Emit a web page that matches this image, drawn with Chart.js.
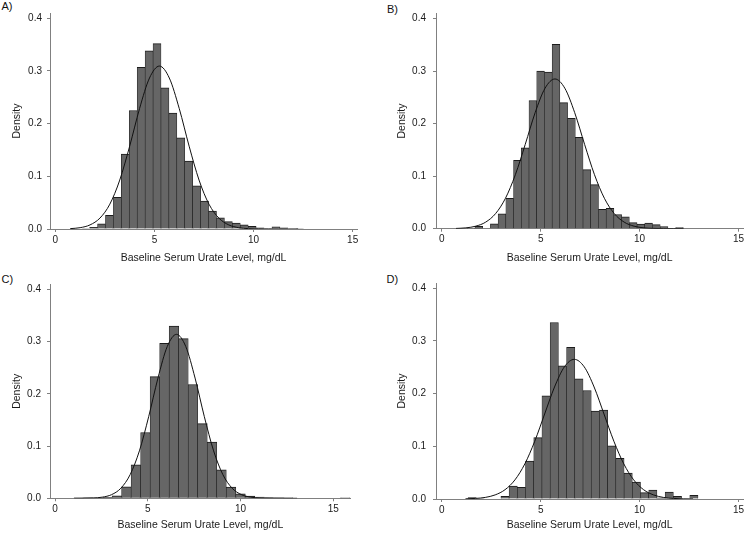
<!DOCTYPE html>
<html><head><meta charset="utf-8">
<script src="https://cdn.jsdelivr.net/npm/chart.js@4.4.1/dist/chart.umd.min.js"></script>
<style>
html,body{margin:0;padding:0;background:#fff;}
body{width:745px;height:535px;position:relative;overflow:hidden;font-family:"Liberation Sans",Arial,sans-serif;}
canvas{position:absolute;}
.lab{position:absolute;font-size:11px;line-height:11px;color:#111;}
</style></head><body>
<div class="lab" style="left:1.5px;top:1.4px">A)</div>
<div class="lab" style="left:387px;top:3.7px">B)</div>
<div class="lab" style="left:1.5px;top:273.7px">C)</div>
<div class="lab" style="left:386.5px;top:273.7px">D)</div>
<canvas id="cA" width="372" height="268" style="left:0;top:0"></canvas>
<canvas id="cB" width="367" height="268" style="left:378px;top:0"></canvas>
<canvas id="cC" width="372" height="267" style="left:0;top:268px"></canvas>
<canvas id="cD" width="367" height="267" style="left:378px;top:268px"></canvas>
<script>
// ---- data ----
const xTickValues = [0, 5, 10, 15];
const yTickValues = [0, 0.1, 0.2, 0.3, 0.4];
const yTickLabels = ["0.0", "0.1", "0.2", "0.3", "0.4"];
const xTitle = "Baseline Serum Urate Level, mg/dL";
const yTitle = "Density";

// Panel A histogram (bin start, bin width, densities)
const binStartA = 0.53, binWidthA = 0.4;
const densityA = [0, 0, 0.001, 0.003, 0.010, 0.026, 0.060, 0.142, 0.225, 0.307, 0.338, 0.352, 0.268, 0.220, 0.173, 0.129, 0.082, 0.053, 0.034, 0.021, 0.014, 0.011, 0.008, 0.005, 0.002, 0.001, 0.004, 0.002, 0, 0.001];
const curveXA = [0.75,1.25,1.75,2.25,2.75,3.25,3.75,4.25,4.75,5.25,5.75,6.25,6.75,7.25,7.75,8.25,8.75,9.25,9.75,10.25,10.75,11.25,11.75,12.25];
const curveYA = [0.0007,0.0025,0.0078,0.0207,0.0472,0.0929,0.1572,0.2288,0.2866,0.3093,0.2866,0.2288,0.1572,0.0929,0.0472,0.0207,0.0078,0.0025,0.0007,0.0002,0,0,0,0];

// Panel B
const binStartB = 0.51, binWidthB = 0.39;
const densityB = [0, 0, 0.001, 0.0044, 0, 0.0095, 0.0285, 0.058, 0.130, 0.154, 0.244, 0.300, 0.298, 0.351, 0.240, 0.210, 0.174, 0.1125, 0.084, 0.037, 0.039, 0.027, 0.0225, 0.0117, 0.0086, 0.0105, 0.0079, 0.0041, 0, 0.0022];
const curveXB = [0.72,1.22,1.72,2.22,2.72,3.22,3.72,4.22,4.72,5.22,5.72,6.22,6.72,7.22,7.72,8.22,8.72,9.22,9.72,10.22,10.72,11.22,11.72,12.22];
const curveYB = [0.0005,0.0016,0.0048,0.0125,0.0287,0.0579,0.1027,0.1605,0.2208,0.2674,0.2850,0.2674,0.2208,0.1605,0.1027,0.0579,0.0287,0.0125,0.0048,0.0016,0.0005,0.0001,0,0];

// Panel C
const binStartC = 1.025, binWidthC = 0.513;
const densityC = [0.0003, 0.0005, 0.001, 0.002, 0.0045, 0.022, 0.064, 0.126, 0.233, 0.297, 0.330, 0.306, 0.218, 0.143, 0.1075, 0.0545, 0.0214, 0.0086, 0.0041, 0.0022, 0.0016, 0.0006, 0.0003, 0, 0, 0, 0, 0, 0.0003];
const curveXC = [1.05,1.55,2.05,2.55,3.05,3.55,4.05,4.55,5.05,5.55,6.05,6.55,7.05,7.55,8.05,8.55,9.05,9.55,10.05,10.55,11.05,11.55,12.05,12.55,13.05];
const curveYC = [0,0.0001,0.0006,0.0022,0.0070,0.0193,0.0453,0.0909,0.1564,0.2304,0.2907,0.3141,0.2907,0.2304,0.1564,0.0909,0.0453,0.0193,0.0070,0.0022,0.0006,0.0001,0,0,0];

// Panel D
const binStartD = 1.33, binWidthD = 0.415;
const densityD = [0.0025, 0.001, 0, 0, 0.005, 0.0247, 0.022, 0.072, 0.1166, 0.196, 0.335, 0.253, 0.288, 0.228, 0.206, 0.167, 0.169, 0.101, 0.077, 0.049, 0.032, 0.012, 0.017, 0.002, 0.013, 0.005, 0, 0.007];
const curveXD = [1.2,1.7,2.2,2.7,3.2,3.7,4.2,4.7,5.2,5.7,6.2,6.7,7.2,7.7,8.2,8.7,9.2,9.7,10.2,10.7,11.2,11.7,12.2,12.7];
const curveYD = [0.0003,0.0011,0.0030,0.0078,0.0177,0.0363,0.0667,0.1096,0.1613,0.2126,0.2509,0.2651,0.2509,0.2126,0.1613,0.1096,0.0667,0.0363,0.0177,0.0078,0.0030,0.0011,0.0003,0.0001];

// ---- drawing ----
const FONT = '"Liberation Sans", Arial, sans-serif';
const AXIS = '#808080';
const TEXT = '#1a1a1a';

function makeChart(id, o) {
  const bars = o.dens.map((d, i) => ({x: o.start + o.width * (i + 0.5), y: d}));
  const curve = o.cx.map((x, i) => ({x: x, y: o.cy[i]}));
  new Chart(document.getElementById(id), {
    type: 'bar',
    data: {
      datasets: [
        {type: 'line', data: curve, borderColor: '#111', borderWidth: 1, pointRadius: 0,
         cubicInterpolationMode: 'monotone', fill: false, order: 0},
        {type: 'bar', data: bars, backgroundColor: '#666666', borderColor: '#1c1c1c',
         borderWidth: {top: 1, left: 0.6, right: 0.6, bottom: 0}, borderSkipped: false,
         barPercentage: 1, categoryPercentage: 1, order: 1}
      ]
    },
    options: {
      responsive: false, animation: false, devicePixelRatio: 1,
      layout: {padding: o.pad},
      plugins: {legend: {display: false}, tooltip: {enabled: false}},
      scales: {
        x: {
          type: 'linear', min: o.xmin, max: o.xmax, offset: false,
          afterBuildTicks: s => { s.ticks = xTickValues.map(v => ({value: v})); },
          afterFit: s => { s.height = o.xh; s.paddingLeft = 0; s.paddingRight = 0; s.paddingTop = 0; s.paddingBottom = 0; },
          ticks: {font: {family: FONT, size: 10}, color: TEXT, padding: 2, maxRotation: 0, autoSkip: false,
                  callback: v => String(v)},
          grid: {display: true, drawOnChartArea: false, drawTicks: true, tickLength: 3, color: AXIS, offset: false},
          border: {display: true, color: AXIS, width: 1},
          title: {display: true, text: xTitle, color: TEXT, font: {family: FONT, size: 10.5},
                  padding: {top: 0, bottom: o.xtp}}
        },
        y: {
          min: 0, max: 0.41,
          afterBuildTicks: s => { s.ticks = yTickValues.map(v => ({value: v})); },
          afterFit: s => { s.width = o.yw; s.paddingLeft = 0; s.paddingRight = 0; s.paddingTop = 0; s.paddingBottom = 0; },
          ticks: {font: {family: FONT, size: 10}, color: TEXT, padding: o.ytp, autoSkip: false,
                  callback: v => yTickLabels[yTickValues.findIndex(t => Math.abs(t - v) < 1e-9)]},
          grid: {display: true, drawOnChartArea: false, drawTicks: true, tickLength: 3, color: AXIS},
          border: {display: true, color: AXIS, width: 1},
          title: {display: true, text: yTitle, color: TEXT, font: {family: FONT, size: 10.5},
                  padding: {top: o.ytt, bottom: 0}}
        }
      }
    }
  });
}

makeChart('cA', {dens: densityA, start: binStartA, width: binWidthA, cx: curveXA, cy: curveYA,
  pad: {top: 13, right: 15, left: 0, bottom: 0}, xmin: -0.27, xmax: 15.22, xh: 39, yw: 50, xtp: 3.7, ytt: 10.4, ytp: 5});
makeChart('cB', {dens: densityB, start: binStartB, width: binWidthB, cx: curveXB, cy: curveYB,
  pad: {top: 13.3, right: 1.7, left: 0, bottom: 0}, xmin: -0.29, xmax: 15.24, xh: 39.3, yw: 58, xtp: 3.7, ytt: 17.4, ytp: 7});
makeChart('cC', {dens: densityC, start: binStartC, width: binWidthC, cx: curveXC, cy: curveYC,
  pad: {top: 16.3, right: 21.3, left: 0, bottom: 0}, xmin: -0.27, xmax: 15.94, xh: 36.7, yw: 50, xtp: 3.7, ytt: 10.4, ytp: 6});
makeChart('cD', {dens: densityD, start: binStartD, width: binWidthD, cx: curveXD, cy: curveYD,
  pad: {top: 15, right: 1.7, left: 0, bottom: 0}, xmin: -0.29, xmax: 15.24, xh: 36, yw: 58, xtp: 3.2, ytt: 17.4, ytp: 7});
</script>
</body></html>
